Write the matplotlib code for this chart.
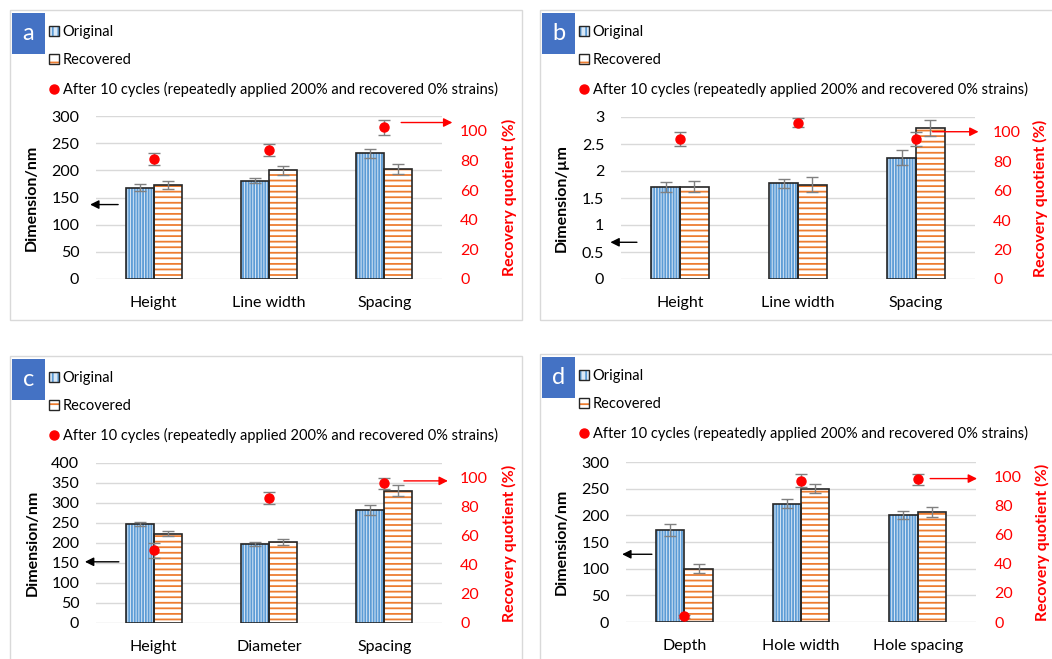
import matplotlib
matplotlib.use("Agg")
import matplotlib.pyplot as plt
from matplotlib.patches import Rectangle, Patch
from matplotlib.lines import Line2D
import numpy as np

plt.rcParams["font.family"] = ["Lato", "DejaVu Sans"]
plt.rcParams["hatch.linewidth"] = 1.3

# ---- data ----
a_categories = ["Height", "Line width", "Spacing"]
a_original = [168, 181, 231]
a_original_err = [6, 5, 8.5]
a_recovered = [173, 200, 203]
a_recovered_err = [8, 8.5, 9]
a_quotient = [81, 87, 102.5]
a_quotient_err = [4, 4, 5]

b_categories = ["Height", "Line width", "Spacing"]
b_original = [1.70, 1.77, 2.25]
b_original_err = [0.09, 0.09, 0.14]
b_recovered = [1.71, 1.75, 2.80]
b_recovered_err = [0.10, 0.13, 0.15]
b_quotient = [95, 106, 95]
b_quotient_err = [5, 3, 5]

c_categories = ["Height", "Diameter", "Spacing"]
c_original = [248, 197, 283]
c_original_err = [5, 5, 12]
c_recovered = [223, 202, 331]
c_recovered_err = [6, 7, 14]
c_quotient = [50, 86, 96]
c_quotient_err = [5, 4, 4]

d_categories = ["Depth", "Hole width", "Hole spacing"]
d_original = [172, 222, 201]
d_original_err = [11, 9, 8]
d_recovered = [100, 250, 206]
d_recovered_err = [9, 8, 10]
d_quotient = [4, 97, 98]
d_quotient_err = [1, 4.5, 4]

W, H = 1052, 659
BLUE_FILL = "#DAE8F6"
BLUE_LINE = "#5B9BD5"
ORANGE = "#ED7D31"
GREY = "#808080"
GRID = "#D9D9D9"
RED = "#FF0000"
EDGE = "#262626"


def fx(px):
    return px / W


def fy(py):
    return 1 - py / H


def draw_panel(fig, letter, box, rect, cats, orig, orig_err, rec, rec_err, quo, quo_err,
               ymax, ystep, ylabel, ylab_x, y2lab_x, black_arrow, red_arrow):
    # panel frame
    bx0, by0, bx1, by1 = box
    fig.patches.append(Rectangle((fx(bx0), fy(by1)), fx(bx1 - bx0), (by1 - by0) / H,
                                 transform=fig.transFigure, fill=False,
                                 edgecolor=GRID, lw=1))
    # letter tag
    fig.patches.append(Rectangle((fx(bx0 + 2), fy(by0 + 44)), fx(33), 41 / H,
                                 transform=fig.transFigure, facecolor="#4472C4",
                                 edgecolor="none"))
    fig.text(fx(bx0 + 18.5), fy(by0 + 24), letter, color="white", fontsize=17,
             ha="center", va="center")

    l, t, r, b = rect
    ax = fig.add_axes([fx(l), fy(b), fx(r - l), (b - t) / H])
    x = np.arange(len(cats))
    bw = 0.243
    # original bars: hatch in blue, then black outline
    ax.bar(x - bw / 2, orig, bw, color=BLUE_FILL, edgecolor=BLUE_LINE, hatch="||||||",
           linewidth=0, zorder=2)
    ax.bar(x - bw / 2, orig, bw, fill=False, edgecolor=EDGE, linewidth=1.2, zorder=3)
    ax.bar(x + bw / 2, rec, bw, color="white", edgecolor=ORANGE, hatch="---",
           linewidth=0, zorder=2)
    ax.bar(x + bw / 2, rec, bw, fill=False, edgecolor=EDGE, linewidth=1.2, zorder=3)
    ax.errorbar(x - bw / 2, orig, yerr=orig_err, fmt="none", ecolor=GREY, elinewidth=1,
                capsize=4, capthick=1, zorder=4)
    ax.errorbar(x + bw / 2, rec, yerr=rec_err, fmt="none", ecolor=GREY, elinewidth=1,
                capsize=4, capthick=1, zorder=4)

    ax.set_xlim(-0.5, len(cats) - 0.5)
    ax.set_ylim(0, ymax)
    ticks = np.arange(0, ymax + ystep / 2, ystep)
    ax.set_yticks(ticks)
    ax.set_yticklabels([f"{v:g}" for v in ticks])
    ax.set_xticks(x)
    ax.set_xticklabels(cats)
    ax.tick_params(axis="both", length=0, labelsize=11.5)
    ax.tick_params(axis="y", pad=12)
    ax.tick_params(axis="x", pad=12)
    ax.grid(axis="y", color=GRID, lw=1)
    ax.set_axisbelow(True)
    for s in ax.spines.values():
        s.set_visible(False)
    ax.set_ylabel(ylabel, fontsize=11.5, fontweight="bold")
    ax.yaxis.set_label_coords(ylab_x, 0.5)

    ax2 = ax.twinx()
    ax2.set_ylim(0, 110)
    ax2.set_yticks(np.arange(0, 101, 20))
    ax2.tick_params(axis="y", length=0, labelsize=11.5, colors=RED, pad=13)
    for s in ax2.spines.values():
        s.set_visible(False)
    ax2.errorbar(x, quo, yerr=quo_err, fmt="o", color=RED, ms=6.5, ecolor=GREY,
                 elinewidth=1, capsize=4, capthick=1, zorder=5)
    ax2.set_ylabel("Recovery quotient (%)", fontsize=11.5, fontweight="bold", color=RED)
    ax2.yaxis.set_label_coords(y2lab_x, 0.5)

    # direction arrows
    ax0, ax1, ay = black_arrow
    ax.annotate("", xy=(ax1, ay), xytext=(ax0, ay), xycoords=ax.get_yaxis_transform(),
                arrowprops=dict(arrowstyle="-|>", color="black", lw=1, mutation_scale=13,
                                shrinkA=0, shrinkB=0), annotation_clip=False)
    rx0, rx1, ry = red_arrow
    ax2.annotate("", xy=(rx1, ry), xytext=(rx0, ry), xycoords=ax2.get_yaxis_transform(),
                 arrowprops=dict(arrowstyle="-|>", color=RED, lw=1, mutation_scale=13,
                                 shrinkA=0, shrinkB=0), annotation_clip=False)

    handles = [
        (Patch(facecolor=BLUE_FILL, edgecolor=BLUE_LINE, hatch="|||", lw=0),
         Patch(fill=False, edgecolor=EDGE, lw=1)),
        (Patch(facecolor="white", edgecolor=ORANGE, hatch="--", lw=0),
         Patch(fill=False, edgecolor=EDGE, lw=1)),
        Line2D([], [], ls="none", marker="o", color=RED, ms=6.5),
    ]
    labels = ["Original", "Recovered",
              "After 10 cycles (repeatedly applied 200% and recovered 0% strains)"]
    ax.legend(handles, labels, loc="upper left",
              bbox_to_anchor=(fx(bx0 + 33), fy(by0 + 9)),
              bbox_transform=fig.transFigure, frameon=False, fontsize=10.5,
              handlelength=0.7, handleheight=0.7, handletextpad=0.25,
              labelspacing=1.0, borderaxespad=0)
    return ax


fig = plt.figure(figsize=(W / 100, H / 100), dpi=100)

draw_panel(fig, "a", (10, 10, 522, 320), (96, 116, 442, 279),
           a_categories, a_original, a_original_err, a_recovered, a_recovered_err,
           a_quotient, a_quotient_err, 300, 50, "Dimension/nm", -0.165, 1.173,
           (0.064, -0.017, 137), (0.882, 1.03, 105.6))
draw_panel(fig, "b", (540, 10, 1062, 320), (621, 117, 975, 279),
           b_categories, b_original, b_original_err, b_recovered, b_recovered_err,
           b_quotient, b_quotient_err, 3, 0.5, "Dimension/\u00b5m", -0.147, 1.164,
           (0.045, -0.03, 0.68), (0.88, 1.01, 100))
draw_panel(fig, "c", (10, 356, 522, 670), (96, 463, 442, 623),
           c_categories, c_original, c_original_err, c_recovered, c_recovered_err,
           c_quotient, c_quotient_err, 400, 50, "Dimension/nm", -0.162, 1.173,
           (0.066, -0.032, 153), (0.89, 1.017, 97.7))
draw_panel(fig, "d", (540, 354, 1062, 670), (626, 462, 976, 622),
           d_categories, d_original, d_original_err, d_recovered, d_recovered_err,
           d_quotient, d_quotient_err, 300, 50, "Dimension/nm", -0.163, 1.169,
           (0.074, -0.011, 127), (0.869, 1.003, 98.6))

fig.savefig("out.png", dpi=100, facecolor="white")
